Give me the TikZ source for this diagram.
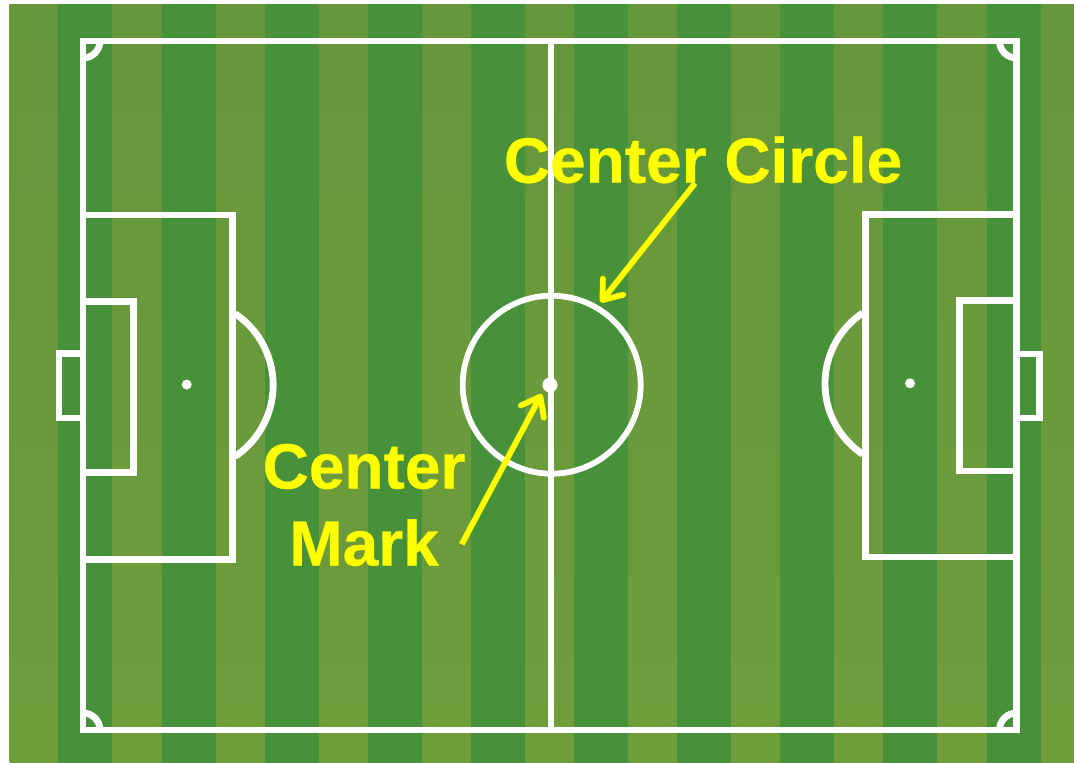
\documentclass[tikz,border=0pt]{standalone}
\usepackage{fontspec}
\setmainfont[BoldFeatures={FakeBold=0.5}]{Liberation Sans}
\usetikzlibrary{arrows.meta}
\definecolor{lighttop}{HTML}{65973B}
\definecolor{lightbot}{HTML}{709D3C}
\definecolor{darkgrass}{HTML}{47913A}
\definecolor{labelyellow}{HTML}{FFFF00}
\tikzset{
  pitchline/.style={draw=white,line width=6.8pt,line join=miter},
  thinline/.style={draw=white,line width=6.2pt},
  spot/.style={circle,fill=white,inner sep=0pt,minimum size=#1},
  stripe/.style={fill=darkgrass,draw=none},
  lbl/.style={text=labelyellow,font=\fontsize{64}{77}\selectfont\bfseries,inner sep=0pt},
  pointer/.style={draw=labelyellow,line width=5.8pt,
    -{Straight Barb[length=17pt,width=26pt,line width=5.8pt,round]},
    preaction={draw=black!80!green,opacity=.3,transform canvas={shift={(1.5pt,-2pt)}}}}
}
\begin{document}
\begin{tikzpicture}[x=1pt,y=-1pt]
\useasboundingbox (0,0) rectangle (1074,763);
\fill[white] (0,0) rectangle (1074,763);
\shade[top color=lighttop,bottom color=lightbot] (9.5,4) rectangle (1074,763);
\foreach \x in {58,161.5,264.5,368,471,574,677,780,883,987}
  \fill[stripe] (\x,4) rectangle ++(54,759);
% pitch outline and halfway line
\draw[pitchline] (83,41) rectangle (1016.5,730);
\draw[thinline] (550.7,41) -- (550.7,730);
% corner arcs
\draw[pitchline] (83,58) arc[start angle=90,end angle=0,radius=17];
\draw[pitchline] (83,713) arc[start angle=-90,end angle=0,radius=17];
\draw[pitchline] (1016.5,58) arc[start angle=90,end angle=180,radius=17];
\draw[pitchline] (1016.5,713) arc[start angle=-90,end angle=-180,radius=17];
% left end
\draw[pitchline] (83,215) -- (232.3,215) -- (232.3,559.5) -- (83,559.5);
\draw[pitchline] (83,301.7) -- (133.3,301.7) -- (133.3,472.5) -- (83,472.5);
\draw[pitchline] (83,353.7) -- (59,353.7) -- (59,418) -- (83,418);
\draw[thinline,line width=6.8pt] (235,313.6) arc[start angle=-56.2,end angle=56.2,radius=86];
\node[spot=10pt] (leftspot) at (186.7,384.5) {};
% right end
\draw[pitchline] (1016.5,214.3) -- (865.7,214.3) -- (865.7,557) -- (1016.5,557);
\draw[pitchline] (1016.5,300.5) -- (959.3,300.5) -- (959.3,471) -- (1016.5,471);
\draw[pitchline] (1016.5,354) -- (1039.7,354) -- (1039.7,418) -- (1016.5,418);
\draw[thinline,line width=6.8pt] (862.7,313) arc[start angle=236.2,end angle=123.8,radius=85];
\node[spot=10pt] (rightspot) at (910,383.3) {};
% centre
\node[circle,draw=white,line width=5.8pt,minimum size=178pt,inner sep=0pt,outer sep=0pt] (centrecircle) at (551.7,384.7) {};
\node[spot=15pt] (centremark) at (550,385) {};
% labels
\node[lbl,anchor=base west] (circlelabel) at (503.7,182.7) {Center Circle};
\node[lbl,align=center] (marklabel) at (364,505) {Center\\Mark};
% arrows
\coordinate (circlefrom) at (695,183.3);
\coordinate (circleto) at (600.7,302.3);
\coordinate (markfrom) at (461.7,544.3);
\coordinate (markto) at (541.7,394);
\draw[pointer] (circlefrom) -- (circleto);
\draw[pointer] (markfrom) -- (markto);
\end{tikzpicture}
\end{document}
